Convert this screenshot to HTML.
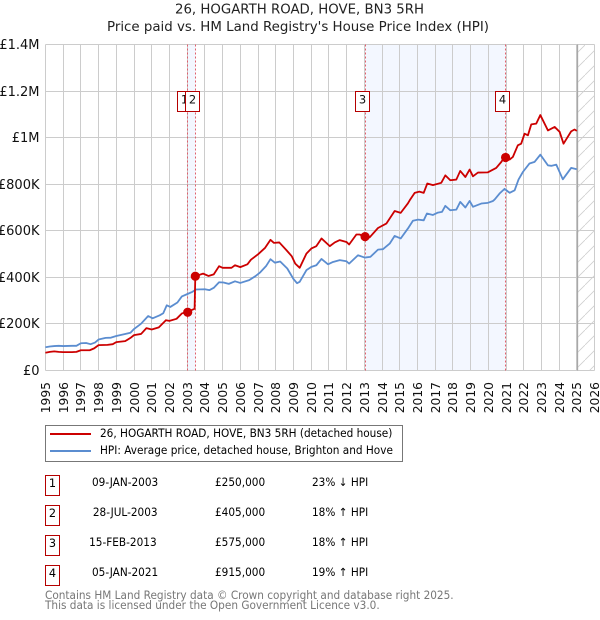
<!DOCTYPE html>
<html>
<head>
<meta charset="utf-8">
<style>
html,body{margin:0;padding:0;background:#fff;}
#page{position:relative;width:600px;height:620px;overflow:hidden;font-family:"DejaVu Sans","Liberation Sans",sans-serif;color:#000;}
.abs{position:absolute;white-space:nowrap;}
.narrow{font-size:11.3px;line-height:14px;transform:scaleX(.93);transform-origin:left center;}
.box{position:absolute;left:45px;width:13px;height:19px;border:1px solid #b50000;text-align:center;font-size:11.3px;line-height:15px;}
.cell{position:absolute;font-size:11.3px;white-space:nowrap;line-height:14px;transform:scaleX(.93);transform-origin:left center;}
.date{transform-origin:right center;}
svg text{font-family:"DejaVu Sans","Liberation Sans",sans-serif;}
</style>
</head>
<body>
<div id="page">
<svg id="chart" width="600" height="420" style="position:absolute;left:0;top:0">
<defs>
<pattern id="hatch" patternUnits="userSpaceOnUse" width="15" height="15">
<line x1="0" y1="15" x2="15" y2="0" stroke="#cfcfcf" stroke-width="0.8"/>
</pattern>
</defs>
<text x="175" y="13.5" font-size="13" textLength="249" lengthAdjust="spacingAndGlyphs" fill="#222">26, HOGARTH ROAD, HOVE, BN3 5RH</text>
<text x="107" y="31" font-size="13" textLength="382" lengthAdjust="spacingAndGlyphs" fill="#222">Price paid vs. HM Land Registry's House Price Index (HPI)</text>
</svg>

<div class="abs" style="left:45px;top:425px;width:356px;height:35px;border:1px solid #777;"></div>
<div class="abs" style="left:50px;top:433px;width:41px;height:2px;background:#cc0000;"></div>
<div class="abs narrow" style="left:100px;top:427px;">26, HOGARTH ROAD, HOVE, BN3 5RH (detached house)</div>
<div class="abs" style="left:50px;top:450px;width:41px;height:2px;background:#5b8dd0;"></div>
<div class="abs narrow" style="left:100px;top:444px;">HPI: Average price, detached house, Brighton and Hove</div>

<div class="box" style="top:475px;">1</div>
<div class="cell date" style="right:442px;top:476px;">09-JAN-2003</div>
<div class="cell" style="left:215px;top:476px;">£250,000</div>
<div class="cell" style="left:312px;top:476px;">23% ↓ HPI</div>

<div class="box" style="top:505px;">2</div>
<div class="cell date" style="right:442px;top:506px;">28-JUL-2003</div>
<div class="cell" style="left:215px;top:506px;">£405,000</div>
<div class="cell" style="left:312px;top:506px;">18% ↑ HPI</div>

<div class="box" style="top:535px;">3</div>
<div class="cell date" style="right:443px;top:536px;">15-FEB-2013</div>
<div class="cell" style="left:215px;top:536px;">£575,000</div>
<div class="cell" style="left:312px;top:536px;">18% ↑ HPI</div>

<div class="box" style="top:565px;">4</div>
<div class="cell date" style="right:442px;top:566px;">05-JAN-2021</div>
<div class="cell" style="left:215px;top:566px;">£915,000</div>
<div class="cell" style="left:312px;top:566px;">19% ↑ HPI</div>

<div class="abs narrow" style="left:45px;top:589px;color:#777;">Contains HM Land Registry data © Crown copyright and database right 2025.</div>
<div class="abs narrow" style="left:45px;top:599px;color:#777;">This data is licensed under the Open Government Licence v3.0.</div>
</div>

<script>
var yearTicks = [1995,1996,1997,1998,1999,2000,2001,2002,2003,2004,2005,2006,2007,2008,2009,2010,2011,2012,2013,2014,2015,2016,2017,2018,2019,2020,2021,2022,2023,2024,2025,2026];
var valueTicks = [0,200,400,600,800,1000,1200,1400];
var valueTickLabels = ["£0","£200K","£400K","£600K","£800K","£1M","£1.2M","£1.4M"];
var saleNumbers = ["1","2","3","4"];
var saleYears = [2003.03,2003.46,2013.04,2020.97];
var saleValues = [250,405,575,915];
var dataEndYear = 2025.02;
var axisEndYear = 2026;

var hpiYears = [1995,1995.25,1995.5,1995.75,1996,1996.5,1996.75,1997,1997.3,1997.55,1997.8,1998,1998.4,1998.7,1999,1999.5,1999.8,2000,2000.4,2000.8,2001.05,2001.45,2001.65,2001.85,2002.05,2002.45,2002.7,2003,2003.3,2003.5,2004,2004.25,2004.5,2004.8,2005.05,2005.35,2005.7,2006,2006.5,2006.85,2007.1,2007.45,2007.7,2007.95,2008.25,2008.65,2009,2009.2,2009.35,2009.73,2010.01,2010.29,2010.58,2010.95,2011.23,2011.61,2011.99,2012.14,2012.64,2013.02,2013.34,2013.77,2014.05,2014.43,2014.71,2015.05,2015.46,2015.74,2016.03,2016.35,2016.53,2016.87,2017.15,2017.38,2017.57,2017.85,2018.19,2018.41,2018.7,2018.94,2019.13,2019.6,2019.97,2020.26,2020.35,2020.63,2020.91,2021.2,2021.48,2021.7,2021.95,2022.32,2022.61,2022.93,2023.36,2023.55,2023.83,2024.2,2024.67,2024.99];
var hpiValues = [100,103,105,106,105,106,106,117,118,113,120,133,140,141,148,157,162,178,201,234,224,237,246,280,273,292,318,328,338,348,349,345,355,379,378,372,383,376,388,405,420,448,478,463,468,438,393,375,381,431,445,452,479,456,466,474,469,459,495,485,488,519,521,545,578,567,610,643,648,645,674,668,678,681,707,688,691,724,700,728,703,717,720,728,734,760,780,763,774,820,853,889,896,927,881,879,884,821,870,864];

var priceYears = [1995,1995.25,1995.5,1995.75,1996,1996.5,1996.75,1997,1997.5,1997.75,1998,1998.5,1998.8,1999,1999.5,1999.8,2000,2000.4,2000.7,2001,2001.4,2001.8,2002,2002.4,2002.7,2003,2003.2,2003.42,2003.46,2003.9,2004.2,2004.5,2004.8,2005,2005.5,2005.7,2006,2006.4,2006.6,2007,2007.4,2007.7,2007.9,2008.2,2008.6,2008.9,2009.1,2009.35,2009.73,2010.01,2010.29,2010.58,2011.05,2011.33,2011.61,2011.99,2012.14,2012.55,2012.73,2013.02,2013.3,2013.77,2014.24,2014.71,2015.05,2015.46,2015.56,2015.84,2016.1,2016.35,2016.55,2016.87,2017.34,2017.57,2017.85,2018.19,2018.41,2018.7,2018.94,2019.13,2019.41,2019.97,2020.44,2020.73,2020.91,2021.2,2021.38,2021.66,2021.85,2022.04,2022.23,2022.42,2022.7,2022.93,2023.36,2023.74,2024.02,2024.24,2024.67,2024.86,2024.99];
var priceValues = [76,80,82,80,79,79,80,87,87,95,109,110,113,122,126,140,152,157,182,176,185,216,213,222,245,252,258,265,405,416,406,413,448,441,441,452,444,456,476,499,527,561,548,550,517,491,459,441,502,524,534,567,534,550,560,552,541,584,584,575,572,612,631,685,677,718,731,763,768,763,803,796,806,838,817,820,857,831,863,834,850,851,870,896,917,906,917,967,974,1017,1010,1057,1060,1097,1031,1046,1025,974,1027,1035,1029];

var svg = document.getElementById('chart');
var NS = 'http://www.w3.org/2000/svg';
var plotLeft = 45.4, yearWidth = 17.72, plotBottom = 370.5, plotHeight = 326, plotMax = 1400;

function xScale(year){ return plotLeft + (year - yearTicks[0]) * yearWidth; }
function yScale(value){ return plotBottom - value * plotHeight / plotMax; }
function snap(p){ return Math.floor(p) + 0.5; }
function make(tag, attrs){
  var el = document.createElementNS(NS, tag);
  for (var k in attrs) el.setAttribute(k, attrs[k]);
  svg.appendChild(el);
  return el;
}
function linePath(xs, ys){
  var d = '';
  for (var i = 0; i < xs.length; i++) d += (i ? 'L' : 'M') + xScale(xs[i]).toFixed(2) + ' ' + yScale(ys[i]).toFixed(2);
  return d;
}

var topY = yScale(valueTicks[valueTicks.length - 1]);
var bottomY = yScale(valueTicks[0]);

for (var b = 0; b < saleYears.length; b += 2) {
  var bandX1 = snap(xScale(saleYears[b]));
  var bandX2 = snap(xScale(saleYears[b + 1]));
  var band = make('rect', {x: bandX1, y: topY, width: bandX2 - bandX1, height: bottomY - topY, fill: '#f3f7ff'});
  
  
}

yearTicks.forEach(function(year){
  var x = snap(xScale(year));
  var grid = make('line', {x1: x, x2: x, y1: topY, y2: bottomY, stroke: '#cccccc', 'stroke-width': 1});
  
  
  var label = make('text', {x: 0, y: 0, 'font-size': 12.3, fill: '#111', 'text-anchor': 'end', transform: 'translate(' + (x + 4.5) + ',' + 382 + ') rotate(-90)'});
  label.textContent = String(year);
  
  
});

valueTicks.forEach(function(value, i){
  var y = snap(yScale(value));
  var grid = make('line', {x1: 45.5, x2: 594.5, y1: y, y2: y, stroke: '#cccccc', 'stroke-width': 1});
  
  
  var label = make('text', {x: 39.5, y: y + 4.5, 'font-size': 13, fill: '#111', 'text-anchor': 'end'});
  label.textContent = valueTickLabels[i];
  
  
});

var hatchX = snap(xScale(dataEndYear));
var hatch = make('rect', {x: hatchX, y: topY, width: snap(xScale(axisEndYear)) - hatchX, height: bottomY - topY, fill: 'url(#hatch)'});


var endLine = make('line', {x1: hatchX, x2: hatchX, y1: topY, y2: bottomY, stroke: '#a8a8a8', 'stroke-width': 1.3});



saleYears.forEach(function(year){
  var x = snap(xScale(year));
  var dash = make('line', {x1: x, x2: x, y1: topY, y2: bottomY, stroke: '#e0606c', 'stroke-width': 1, 'stroke-dasharray': '2,2'});
  
  
});

var hpiLine = make('path', {d: linePath(hpiYears, hpiValues), fill: 'none', stroke: '#5b8dd0', 'stroke-width': 1.8, 'stroke-linejoin': 'round'});



var priceLine = make('path', {d: linePath(priceYears, priceValues), fill: 'none', stroke: '#cc0000', 'stroke-width': 1.8, 'stroke-linejoin': 'round'});



saleYears.forEach(function(year, i){
  var x = xScale(year);
  var dot = make('circle', {cx: x, cy: yScale(saleValues[i]), r: 4.6, fill: '#cc0000'});
  
  
  var bx = snap(x) - 10;
  var badge = make('rect', {x: bx, y: 91.5, width: 14, height: 20, fill: '#fff', stroke: '#b50000', 'stroke-width': 1});
  
  
  var num = make('text', {x: bx + 7, y: 103.5, 'font-size': 11.5, 'text-anchor': 'middle', fill: '#111'});
  num.textContent = saleNumbers[i];
  
  
});
</script>
</body>
</html>
